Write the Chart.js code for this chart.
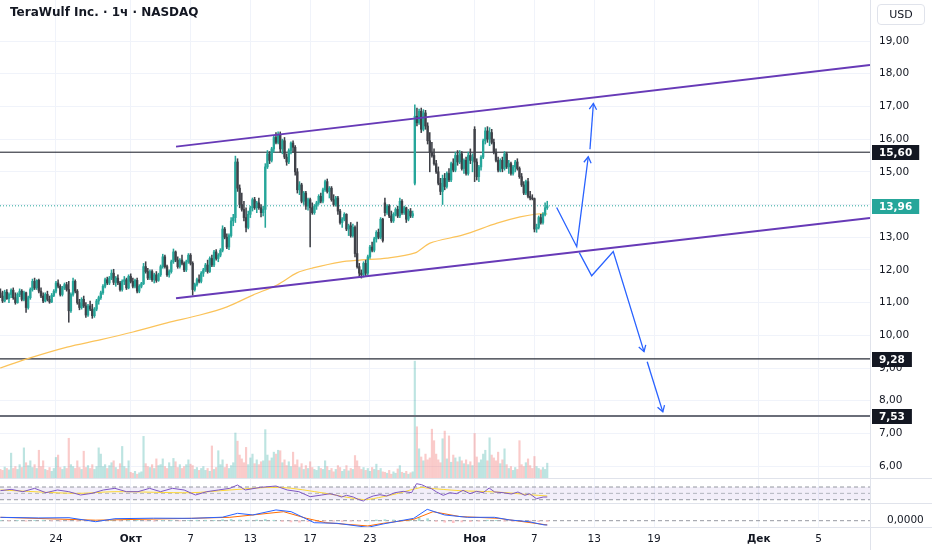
<!DOCTYPE html>
<html>
<head>
<meta charset="utf-8">
<script src="https://cdn.jsdelivr.net/npm/chart.js@4.4.1/dist/chart.umd.min.js"></script>
<style>
  html, body { margin: 0; padding: 0; background: #fff; }
  #wrap { position: relative; width: 932px; height: 550px; overflow: hidden; font-family: "DejaVu Sans", Roboto, sans-serif; }
  .pane { position: absolute; left: 0; width: 932px; }
  #title { position: absolute; left: 10px; top: 5px; font-size: 12px; font-weight: bold; color: #131722; z-index: 2; }
  #usd { position: absolute; left: 877px; top: 4px; width: 46px; height: 19px; border: 1px solid #e0e3eb; border-radius: 4px; font-size: 11px; line-height: 19px; text-align: center; color: #131722; z-index: 2; }
</style>
</head>
<body>
<div id="wrap">
  <div class="pane" style="top:0;height:479px"><canvas id="mainChart"></canvas></div>
  <div class="pane" style="top:479px;height:25px"><canvas id="rsiChart"></canvas></div>
  <div class="pane" style="top:504px;height:46px"><canvas id="macdChart"></canvas></div>
  <div id="title">TeraWulf Inc. · 1ч · NASDAQ</div>
  <div id="usd">USD</div>
</div>
<script>
// x = hourly bar number, 7 bars per session, first hour of Sep 24 = 0
const firstBar = -26;

// [open, high, low, close]
const candles = [
  // Sep 18
  [11.30,11.42,11.15,11.20],[11.20,11.35,11.00,11.05],[11.05,11.38,11.02,11.32],[11.32,11.40,11.10,11.12],[11.12,11.30,11.00,11.25],
  // Sep 19
  [11.25,11.42,11.15,11.38],[11.38,11.45,11.10,11.15],[11.15,11.30,10.95,11.00],[11.00,11.30,10.98,11.25],[11.25,11.42,11.18,11.35],[11.35,11.40,11.05,11.10],[11.10,11.35,11.05,11.30],
  // Sep 22
  [11.30,11.32,10.70,10.85],[10.85,11.20,10.80,11.15],[11.15,11.45,11.10,11.40],[11.40,11.72,11.35,11.65],[11.65,11.75,11.40,11.45],[11.45,11.70,11.40,11.68],[11.68,11.72,11.30,11.35],
  // Sep 23
  [11.35,11.45,11.15,11.20],[11.20,11.30,11.00,11.05],[11.05,11.30,11.02,11.25],[11.25,11.35,11.05,11.10],[11.10,11.20,10.98,11.02],[11.02,11.28,11.00,11.22],[11.22,11.40,11.18,11.35],
  // Sep 24
  [11.35,11.65,11.30,11.60],[11.60,11.70,11.45,11.50],[11.50,11.55,11.20,11.25],[11.25,11.50,11.20,11.45],[11.45,11.60,11.40,11.55],[11.55,11.62,11.35,11.40],[11.40,11.65,10.40,10.75],
  // Sep 25
  [10.75,11.30,10.70,11.25],[11.25,11.75,11.20,11.65],[11.65,11.70,11.30,11.35],[11.35,11.40,10.95,11.00],[11.00,11.10,10.78,10.85],[10.85,11.15,10.80,11.10],[11.10,11.20,10.85,10.90],
  // Sep 26
  [10.90,11.00,10.55,10.62],[10.62,10.95,10.58,10.90],[10.90,11.05,10.75,10.80],[10.80,10.95,10.52,10.60],[10.60,10.85,10.55,10.80],[10.80,11.10,10.75,11.05],[11.05,11.20,10.95,11.15],
  // Sep 29
  [11.15,11.35,11.10,11.30],[11.30,11.55,11.25,11.50],[11.50,11.75,11.45,11.70],[11.70,11.78,11.55,11.60],[11.60,11.80,11.55,11.75],[11.75,12.00,11.70,11.90],[11.90,12.02,11.55,11.62],
  // Sep 30
  [11.62,11.80,11.50,11.75],[11.75,11.85,11.55,11.60],[11.60,11.65,11.35,11.40],[11.40,11.70,11.35,11.65],[11.65,11.80,11.55,11.70],[11.70,11.75,11.40,11.45],[11.45,11.85,11.42,11.80],
  // Oct 1
  [11.80,11.88,11.60,11.65],[11.65,11.75,11.45,11.50],[11.50,11.72,11.45,11.68],[11.68,11.75,11.30,11.35],[11.35,11.55,11.30,11.50],[11.50,11.62,11.45,11.58],[11.58,12.20,11.55,12.10],
  // Oct 2
  [12.10,12.25,11.90,11.95],[11.95,12.05,11.70,11.75],[11.75,12.00,11.70,11.95],[11.95,12.00,11.65,11.70],[11.70,11.90,11.60,11.85],[11.85,11.95,11.62,11.68],[11.68,11.90,11.65,11.85],
  // Oct 3
  [11.85,12.15,11.80,12.10],[12.10,12.48,12.05,12.40],[12.40,12.45,12.05,12.10],[12.10,12.15,11.80,11.85],[11.85,12.00,11.78,11.95],[11.95,12.30,11.90,12.25],[12.25,12.64,12.20,12.55],
  // Oct 6
  [12.55,12.58,12.25,12.30],[12.30,12.40,12.05,12.10],[12.10,12.35,12.05,12.30],[12.30,12.45,12.15,12.20],[12.20,12.25,11.95,12.00],[12.00,12.30,11.95,12.25],[12.25,12.50,12.20,12.45],
  // Oct 7
  [12.45,12.50,12.15,12.20],[12.20,12.25,11.23,11.40],[11.40,11.60,11.35,11.55],[11.55,11.75,11.50,11.70],[11.70,11.85,11.60,11.65],[11.65,11.95,11.60,11.90],[11.90,12.05,11.80,12.00],
  // Oct 8
  [12.00,12.20,11.95,12.15],[12.15,12.30,11.90,11.95],[11.95,12.40,11.92,12.35],[12.35,12.45,12.10,12.15],[12.15,12.60,12.10,12.55],[12.55,12.62,12.30,12.35],[12.35,12.50,12.25,12.45],
  // Oct 9
  [12.45,12.65,12.40,12.60],[12.60,13.35,12.55,13.25],[13.25,13.30,12.95,13.00],[13.00,13.10,12.65,12.70],[12.70,13.10,12.62,13.05],[13.05,13.60,13.00,13.50],[13.50,13.70,13.35,13.60],
  // Oct 10
  [13.60,15.48,13.45,15.30],[15.30,15.40,14.40,14.50],[14.50,14.60,13.90,14.00],[14.00,14.35,13.80,13.85],[13.85,14.10,13.50,13.60],[13.60,13.90,13.16,13.30],[13.30,13.80,13.25,13.70],
  // Oct 13
  [13.70,13.95,13.60,13.90],[13.90,14.20,13.80,14.15],[14.15,14.22,13.85,13.90],[13.90,14.10,13.75,14.05],[14.05,14.20,13.85,13.90],[13.90,14.00,13.62,13.75],[13.75,13.95,13.65,13.85],
  // Oct 14
  [13.85,15.25,13.30,15.15],[15.15,15.65,15.10,15.55],[15.55,15.62,15.25,15.35],[15.35,15.75,15.30,15.70],[15.70,16.10,15.60,16.05],[16.05,16.20,15.85,15.90],[15.90,16.22,15.85,16.15],
  // Oct 15
  [16.15,16.22,15.60,15.70],[15.70,16.00,15.55,15.95],[15.95,16.05,15.40,15.45],[15.45,15.55,15.20,15.30],[15.30,15.70,15.25,15.65],[15.65,15.92,15.55,15.88],[15.88,15.95,15.60,15.75],
  // Oct 16
  [15.75,15.80,14.90,15.00],[15.00,15.10,14.35,14.45],[14.45,14.70,14.30,14.60],[14.60,14.65,14.05,14.10],[14.10,14.40,14.00,14.35],[14.35,14.40,13.85,13.95],[13.95,14.20,13.83,14.15],
  // Oct 17
  [14.15,14.20,12.70,13.90],[13.90,14.05,13.70,13.75],[13.75,14.00,13.70,13.95],[13.95,14.10,13.85,14.05],[14.05,14.30,14.00,14.25],[14.25,14.35,14.05,14.10],[14.10,14.50,14.05,14.45],
  // Oct 20
  [14.45,14.75,14.40,14.70],[14.70,14.78,14.35,14.40],[14.40,14.55,14.20,14.50],[14.50,14.55,14.10,14.15],[14.15,14.30,13.95,14.00],[14.00,14.25,13.95,14.20],[14.20,14.25,13.70,13.80],
  // Oct 21
  [13.80,13.85,13.40,13.45],[13.45,13.60,13.30,13.55],[13.55,13.75,13.50,13.70],[13.70,13.72,13.20,13.25],[13.25,13.40,13.05,13.35],[13.35,13.45,13.00,13.05],[13.05,13.40,13.00,13.30],
  // Oct 22
  [13.30,13.35,12.40,12.50],[12.50,13.46,12.05,12.10],[12.10,12.20,11.80,11.90],[11.90,12.00,11.75,11.85],[11.85,12.25,11.78,12.20],[12.20,12.30,11.80,11.90],[11.90,12.45,11.85,12.40],
  // Oct 23
  [12.40,12.75,12.35,12.70],[12.70,12.85,12.55,12.60],[12.60,13.00,12.55,12.95],[12.95,13.20,12.85,13.15],[13.15,13.25,12.95,13.00],[13.00,13.60,12.95,13.55],[13.55,13.58,12.85,12.90],
  // Oct 24
  [14.05,14.20,13.65,13.75],[13.75,14.00,13.70,13.95],[13.95,14.00,13.60,13.65],[13.65,13.80,13.45,13.50],[13.50,13.75,13.45,13.70],[13.70,13.90,13.65,13.85],[13.85,13.95,13.60,13.65],
  // Oct 27
  [13.65,14.20,13.60,14.10],[14.10,14.15,13.70,13.75],[13.75,13.95,13.70,13.90],[13.90,13.92,13.45,13.55],[13.55,13.85,13.50,13.80],[13.80,13.88,13.60,13.65],[13.65,13.80,13.60,13.72],
  // Oct 28
  [14.65,17.05,14.60,16.70],[16.70,16.95,16.40,16.50],[16.50,16.92,16.45,16.85],[16.85,16.95,16.20,16.30],[16.30,16.90,16.25,16.80],[16.80,16.88,16.30,16.40],[16.40,16.50,15.85,15.95],
  // Oct 29
  [15.95,16.20,15.00,15.60],[15.60,15.90,15.45,15.50],[15.50,15.70,15.20,15.25],[15.25,15.35,14.95,15.00],[15.00,15.15,14.60,14.65],[14.65,14.80,14.30,14.40],[14.40,14.90,14.00,14.80],
  // Oct 30
  [14.80,14.95,14.45,14.55],[14.55,15.00,14.50,14.95],[14.95,15.10,14.70,14.75],[14.75,15.30,14.70,15.25],[15.25,15.40,15.00,15.05],[15.05,15.60,15.00,15.50],[15.50,15.65,15.20,15.30],
  // Oct 31
  [15.30,15.65,15.25,15.55],[15.55,15.62,15.05,15.10],[15.10,15.40,14.95,15.35],[15.35,15.45,14.90,14.95],[14.95,15.60,14.90,15.50],[15.50,15.70,15.25,15.35],[15.35,15.55,15.00,15.45],
  // Nov 3
  [16.30,16.38,14.70,15.30],[15.30,15.40,14.75,14.85],[14.85,15.20,14.70,15.15],[15.15,15.50,15.05,15.45],[15.45,16.00,15.40,15.95],[15.95,16.35,15.85,16.25],[16.25,16.38,15.90,16.00],
  // Nov 4
  [16.00,16.35,15.80,16.20],[16.20,16.30,15.85,15.90],[15.90,16.00,15.55,15.60],[15.60,15.70,15.30,15.35],[15.35,15.45,15.00,15.05],[15.05,15.40,15.00,15.35],[15.35,15.45,15.00,15.10],
  // Nov 5
  [15.10,15.62,15.05,15.55],[15.55,15.60,15.10,15.15],[15.15,15.35,14.95,15.25],[15.25,15.30,14.90,14.95],[14.95,15.20,14.90,15.15],[15.15,15.35,15.00,15.30],[15.30,15.40,15.05,15.10],
  // Nov 6
  [15.10,15.15,14.80,14.85],[14.85,14.95,14.55,14.60],[14.60,14.70,14.30,14.35],[14.35,14.75,14.30,14.70],[14.70,14.80,14.20,14.25],[14.25,14.40,14.14,14.20],[14.20,14.30,14.14,14.18],
  // Nov 7
  [14.18,14.20,13.16,13.25],[13.25,13.40,13.15,13.30],[13.30,13.65,13.25,13.60],[13.60,13.70,13.40,13.45],[13.45,13.75,13.40,13.70],[13.70,14.05,13.65,13.90],[13.90,14.10,13.85,13.96]
];

// volume, millions of shares, same bars
const volumes = [
  2.0,1.8,2.5,2.2,1.9,
  5.4,2.2,2.6,2.0,3.0,2.4,6.5,
  3.4,2.8,3.8,2.4,3.0,2.2,6.0,
  2.6,3.8,2.0,1.8,2.4,1.6,2.2,
  4.5,5.0,2.4,2.0,2.6,2.2,8.5,
  3.0,2.6,2.2,3.8,2.4,2.0,5.8,
  2.4,2.8,2.2,3.0,2.0,2.6,6.5,
  5.2,2.6,3.0,2.2,2.8,3.4,3.8,
  2.4,2.0,3.2,6.8,2.6,2.2,3.8,
  1.4,1.2,1.6,1.0,1.3,1.5,8.9,
  3.2,2.6,2.4,3.0,2.2,4.2,2.8,
  3.0,4.2,2.6,2.2,3.4,2.6,4.3,
  3.6,2.4,3.0,2.2,2.6,3.0,4.0,
  3.1,2.8,2.0,2.4,1.8,2.2,2.6,
  1.8,2.2,1.6,6.9,2.0,2.4,5.9,
  3.0,4.0,2.4,3.1,2.2,2.8,3.4,
  9.6,7.9,5.0,4.2,3.4,6.6,3.0,
  4.4,5.2,3.2,4.0,3.0,3.6,3.8,
  10.3,5.0,3.8,4.4,5.6,5.2,6.0,
  5.9,3.4,4.0,2.8,3.6,2.6,5.6,
  3.0,4.0,2.4,3.2,2.0,2.8,2.2,
  3.6,2.4,2.0,1.8,2.6,2.2,2.0,
  3.8,2.6,1.8,2.2,1.5,2.0,2.8,
  2.4,1.6,2.0,2.8,1.7,2.2,2.0,
  4.9,3.8,2.6,2.0,2.4,1.8,2.2,
  1.6,2.4,2.0,3.1,1.8,2.2,1.5,
  1.4,1.2,1.8,1.0,1.5,1.2,2.1,
  2.8,1.4,1.2,1.6,1.0,1.3,1.5,
  24.6,10.9,6.3,4.6,3.8,5.2,4.0,
  4.4,10.4,8.0,5.2,4.0,3.4,8.4,
  10.0,4.2,9.0,3.5,5.0,4.4,3.6,
  4.6,3.8,3.2,4.0,3.0,3.6,2.8,
  9.5,4.6,3.4,4.0,5.2,6.0,3.8,
  8.6,5.0,4.4,3.8,5.6,3.2,4.0,
  6.3,3.0,2.2,2.6,1.8,2.4,2.0,
  8.0,3.0,2.6,3.4,4.2,2.8,2.2,
  4.7,2.6,2.2,1.9,2.4,2.0,3.3
];

// long moving average (yellow)
const maBars   = [-26.2,-13.6,5.2,20.6,36.1,52,67.4,80.1,92.2,103.5,112.8,120.3,133,142.3,155,168.1,175.1,190.6,206.5,217.3,225.2,230];
const maValues = [9.0,9.28,9.64,9.86,10.10,10.38,10.62,10.87,11.23,11.54,11.91,12.06,12.24,12.30,12.36,12.52,12.82,13.07,13.43,13.62,13.71,13.71];

// RSI and its average
const rsiBars   = [-26,-21,-15.5,-10,-4.7,0.7,6,11.5,16.8,22.2,27.6,33,38.4,43.8,49,54.5,60,65.3,70.6,76,81.4,85,88.6,95.8,103,108.3,113.7,119,124.5,128.3,131.4,133.7,136,139.2,141.5,143.9,145.4,148.5,151.7,154.8,158.7,162.6,166.5,168.8,171.2,173.5,175.8,178.2,181.3,184.4,187.5,190.6,193.8,196.9,200,202.8,205.4,209.3,213.2,216.3,219.5,221.8,224.9,228.1,230];
const rsiValues = [58.5,62.6,55.3,65.8,52.1,60.6,55.3,44.8,50.0,60.6,65.8,55.3,55.3,65.8,55.3,65.8,60.6,44.8,55.3,60.6,65.8,76.3,60.6,68.9,73.1,60.6,55.3,39.5,44.8,48.9,43.8,38.5,43.8,38.5,31.2,25.9,33.2,41.7,45.8,41.7,52.1,56.3,52.1,80.4,77.3,70.0,64.7,54.3,43.8,52.1,48.9,59.5,48.9,56.3,52.1,66.8,54.3,52.1,47.9,54.3,43.8,48.9,33.2,38.5,38.5];
const rsiMaBars   = [-26,9.7,27.6,63.5,81.4,104.7,126.3,143.9,153.2,159.5,171.1,173.5,189.1,206.2,221.8,230];
const rsiMaValues = [60.6,50.0,55.3,52.1,60.6,68.9,50.0,30.5,39.5,48.9,68.9,66.8,58.5,54.3,45.8,41.7];
const rsiLevels = [70, 50, 30];

// MACD
const macdBars     = [-26,-8.3,6.1,18.6,27.6,45.6,63.5,77.9,85,92.2,103,110.1,120.9,131.6,146,153.2,167.5,173.8,181.9,192.7,205.3,212.4,221.4,228.6,230];
const macdValues   = [0.135,0.11,0.12,-0.04,0.08,0.10,0.095,0.14,0.295,0.23,0.43,0.36,-0.08,-0.105,-0.265,-0.13,0.095,0.455,0.23,0.135,0.135,0.03,-0.04,-0.17,-0.17];
const signalBars   = [-26,18.6,63.5,81.4,92.2,106.6,117.3,126.3,146,153.2,167.5,176.5,189.1,207,230];
const signalValues = [0.135,0.02,0.095,0.135,0.23,0.36,0.095,-0.08,-0.21,-0.105,0.055,0.36,0.165,0.095,-0.17];
const histStep = 4;
const histValues = [0.01,-0.01,0.01,-0.02,0.01,0.02,-0.01,-0.02,-0.01,-0.02,-0.01,0.01,0.02,0.01,-0.01,0.01,0.01,-0.01,-0.02,0.01,0.01,-0.01,0.01,0.02,0.02,0.01,0.04,0.05,0.03,0.02,0.03,0.05,0.02,-0.03,-0.05,-0.06,-0.04,-0.03,-0.02,-0.02,-0.03,-0.02,-0.01,0.01,0.03,0.04,0.03,0.02,0.03,0.12,0.08,-0.03,-0.06,-0.08,-0.05,-0.04,-0.02,0.02,0.01,-0.02,-0.03,-0.04,-0.03,-0.04,-0.03];

// drawings
const levels = [15.60, 9.28, 7.53];
const lastPrice = 13.96;
const channelTop = [[56.2, 15.77], [381.1, 18.27]];
const channelBottom = [[56.2, 11.13], [381.1, 13.59]];
const arrows = [
  [[234.4, 13.91], [243.8, 12.71], [249.2, 15.46]],
  [[250.0, 15.69], [251.6, 17.09]],
  [[245.0, 12.53], [250.8, 11.82], [260.9, 12.56], [275.3, 9.50]],
  [[276.8, 9.19], [284.1, 7.66]]
];

// axes
const priceTicks = [6,7,8,9,10,11,12,13,14,15,16,17,18,19];
const tickBars   = [0, 35, 63, 91, 119, 147, 196, 224, 252, 280, 329, 357];
const tickLabels = ["24", "Окт", "7", "13", "17", "23", "Ноя", "7", "13", "19", "Дек", "5"];
const monthLabels = ["Окт", "Ноя", "Дек"];

// ---------------------------------------------------------------
const xMin = -26.2, xMax = 381.1;
const upColor = "#26a69a";
const downColor = "#3f4148";
const gridColor = "#f0f3fa";
const sepColor = "#e0e3eb";
const axisWidth = 62;
const fontFamily = '"DejaVu Sans", Roboto, sans-serif';

Chart.defaults.font.family = fontFamily;
Chart.defaults.font.size = 10.5;
Chart.defaults.color = "#131722";

const fmt = (v) => v.toFixed(2).replace(".", ",");
const pts = (xs, ys) => xs.map((x, i) => ({ x: x, y: ys[i] }));
const pairs = (arr) => arr.map((p) => ({ x: p[0], y: p[1] }));
const flat = (v) => [{ x: xMin, y: v }, { x: xMax, y: v }];
const barX = candles.map((c, i) => firstBar + i);
const isUp = candles.map((c) => c[3] >= c[0]);

function xAxis(showLabels) {
  return {
    type: "linear",
    min: xMin,
    max: xMax,
    offset: false,
    grid: { color: gridColor, drawTicks: false, offset: false },
    border: { display: false },
    afterBuildTicks: (ax) => { ax.ticks = tickBars.map((v) => ({ value: v })); },
    ticks: {
      display: showLabels,
      autoSkip: false,
      maxRotation: 0,
      padding: 5,
      color: "#131722",
      font: (c) => ({ size: 10.5, weight: monthLabels.includes(tickLabels[c.index]) ? "bold" : "normal" }),
      callback: (v, i) => tickLabels[i],
    },
    afterFit: (s) => { s.height = showLabels ? 22 : 0; s.paddingLeft = 0; s.paddingRight = 0; },
  };
}

function fixWidth(s) {
  s.width = axisWidth;
  s.paddingTop = 0;
  s.paddingBottom = 0;
}

// pane separators and the right border
const paneLines = {
  id: "paneLines",
  afterDraw(chart, args, opts) {
    const { ctx, chartArea, width, height } = chart;
    ctx.save();
    ctx.strokeStyle = sepColor;
    ctx.lineWidth = 1;
    ctx.beginPath();
    const x = Math.round(chartArea.right) + 0.5;
    ctx.moveTo(x, 0);
    ctx.lineTo(x, height);
    if (opts.bottom) {
      const y = Math.round(chartArea.bottom) - 0.5;
      ctx.moveTo(0, y);
      ctx.lineTo(width, y);
    }
    ctx.stroke();
    ctx.restore();
  },
};

// price tags on the axis and arrow heads
const priceTags = {
  id: "priceTags",
  afterDraw(chart) {
    const { ctx, chartArea } = chart;
    const yScale = chart.scales.y;
    ctx.save();
    // arrow heads
    ctx.beginPath();
    ctx.rect(chartArea.left, chartArea.top, chartArea.right - chartArea.left, chartArea.bottom - chartArea.top);
    ctx.clip();
    chart.data.datasets.forEach((ds, i) => {
      if (!ds.arrow) return;
      const el = chart.getDatasetMeta(i).data;
      const a = el[el.length - 2], b = el[el.length - 1];
      const ang = Math.atan2(b.y - a.y, b.x - a.x);
      ctx.strokeStyle = ds.borderColor;
      ctx.lineWidth = 1.3;
      ctx.beginPath();
      ctx.moveTo(b.x - 7 * Math.cos(ang - 0.55), b.y - 7 * Math.sin(ang - 0.55));
      ctx.lineTo(b.x, b.y);
      ctx.lineTo(b.x - 7 * Math.cos(ang + 0.55), b.y - 7 * Math.sin(ang + 0.55));
      ctx.stroke();
    });
    ctx.restore();

    ctx.save();
    ctx.font = "bold 10.5px " + fontFamily;
    ctx.textBaseline = "middle";
    const tags = levels.map((v) => [v, "#131722"]).concat([[lastPrice, upColor]]);
    const x0 = chartArea.right + 2;
    tags.forEach(([v, bg]) => {
      const py = Math.round(yScale.getPixelForValue(v));
      const t = fmt(v);
      const w = ctx.measureText(t).width + 14;
      ctx.fillStyle = bg;
      ctx.fillRect(x0, py - 7, w, 15);
      ctx.fillStyle = "#ffffff";
      ctx.fillText(t, x0 + 7, py + 1);
    });
    ctx.restore();
  },
};

const common = {
  responsive: true,
  maintainAspectRatio: false,
  animation: false,
  events: [],
  layout: { padding: 0 },
};

// ---- main pane: candles, volume, MA, drawings
const mainDatasets = [
  // arrows
  ...arrows.map((a) => ({
    type: "line", data: pairs(a), borderColor: "#2962ff", borderWidth: 1.3,
    pointRadius: 0, arrow: true, yAxisID: "y", order: 0,
  })),
  { type: "line", data: pairs(channelTop), borderColor: "#673ab7", borderWidth: 2, pointRadius: 0, yAxisID: "y", order: 0 },
  { type: "line", data: pairs(channelBottom), borderColor: "#673ab7", borderWidth: 2, pointRadius: 0, yAxisID: "y", order: 0 },
  // candles
  {
    type: "bar", data: candles.map((c, i) => ({ x: barX[i], y: [Math.min(c[0], c[3]), Math.max(c[0], c[3])] })),
    backgroundColor: isUp.map((u) => (u ? upColor : downColor)), barThickness: 1.7, grouped: false, yAxisID: "y", order: 1,
  },
  {
    type: "bar", data: candles.map((c, i) => ({ x: barX[i], y: [c[2], c[1]] })),
    backgroundColor: isUp.map((u) => (u ? upColor : downColor)), barThickness: 0.9, grouped: false, yAxisID: "y", order: 1,
  },
  { type: "line", data: pts(maBars, maValues), borderColor: "#fbc35a", borderWidth: 1.2, pointRadius: 0, tension: 0.3, yAxisID: "y", order: 2 },
  // horizontal levels
  { type: "line", data: flat(levels[0]), borderColor: "#131722", borderWidth: 1, pointRadius: 0, yAxisID: "y", order: 3 },
  { type: "line", data: flat(levels[1]), borderColor: "#2a2e39", borderWidth: 1.4, pointRadius: 0, yAxisID: "y", order: 3 },
  { type: "line", data: flat(levels[2]), borderColor: "#6a6d78", borderWidth: 2, pointRadius: 0, yAxisID: "y", order: 3 },
  { type: "line", data: flat(lastPrice), borderColor: upColor, borderWidth: 1, borderDash: [1, 2], pointRadius: 0, yAxisID: "y", order: 3 },
  // volume
  {
    type: "bar", data: volumes.map((v, i) => ({ x: barX[i], y: v })),
    backgroundColor: isUp.map((u) => (u ? "rgba(38,166,154,0.3)" : "rgba(239,83,80,0.3)")),
    barThickness: 1.5, grouped: false, yAxisID: "yv", order: 10,
  },
];

new Chart("mainChart", {
  type: "bar",
  data: { datasets: mainDatasets },
  options: {
    ...common,
    plugins: { legend: { display: false }, tooltip: { enabled: false }, paneLines: { bottom: true } },
    scales: {
      x: xAxis(false),
      y: {
        type: "linear", position: "right", min: 5.606, max: 20.254,
        grid: { color: gridColor, drawTicks: false },
        border: { display: false },
        afterBuildTicks: (ax) => { ax.ticks = priceTicks.map((v) => ({ value: v })); },
        ticks: { padding: 9, color: "#131722", callback: (v) => (v === 14 ? "" : fmt(v)) },
        afterFit: fixWidth,
      },
      yv: { display: false, min: 0, max: 100 },
    },
  },
  plugins: [paneLines, priceTags],
});

// ---- RSI pane
new Chart("rsiChart", {
  type: "line",
  data: {
    datasets: [
      { data: pts(rsiBars, rsiValues), borderColor: "#7e57c2", borderWidth: 1, pointRadius: 0 },
      { data: pts(rsiMaBars, rsiMaValues), borderColor: "#fdd835", borderWidth: 1, pointRadius: 0, tension: 0.3 },
      { data: flat(rsiLevels[0]), borderColor: "#9598a1", borderWidth: 1, borderDash: [4, 3], pointRadius: 0 },
      { data: flat(rsiLevels[1]), borderColor: "#b2b5be", borderWidth: 1, borderDash: [4, 3], pointRadius: 0 },
      {
        data: flat(rsiLevels[2]), borderColor: "#9598a1", borderWidth: 1, borderDash: [4, 3], pointRadius: 0,
        fill: { value: rsiLevels[0] }, backgroundColor: "rgba(126,87,194,0.1)",
      },
    ],
  },
  options: {
    ...common,
    plugins: { legend: { display: false }, tooltip: { enabled: false }, paneLines: { bottom: true } },
    scales: {
      x: xAxis(false),
      y: {
        type: "linear", position: "right", min: 16.5, max: 95.2,
        grid: { display: false }, border: { display: false },
        ticks: { display: false },
        afterFit: fixWidth,
      },
    },
  },
  plugins: [paneLines],
});

// ---- MACD pane with the time axis
new Chart("macdChart", {
  type: "bar",
  data: {
    datasets: [
      { type: "line", data: pts(macdBars, macdValues), borderColor: "#2962ff", borderWidth: 1, pointRadius: 0, order: 0 },
      { type: "line", data: pts(signalBars, signalValues), borderColor: "#ff6d00", borderWidth: 1, pointRadius: 0, order: 0 },
      { type: "line", data: flat(0), borderColor: "#9598a1", borderWidth: 1, borderDash: [4, 3], pointRadius: 0, order: 2 },
      {
        type: "bar", data: histValues.map((v, i) => ({ x: firstBar + i * histStep, y: v })),
        backgroundColor: histValues.map((v) => (v >= 0 ? "#a6dcd5" : "#ffc2c6")),
        barThickness: 2, grouped: false, order: 1,
      },
    ],
  },
  options: {
    ...common,
    plugins: { legend: { display: false }, tooltip: { enabled: false }, paneLines: { bottom: true } },
    scales: {
      x: xAxis(true),
      y: {
        type: "linear", position: "right", min: -0.292, max: 0.668,
        grid: { display: false }, border: { display: false },
        afterBuildTicks: (ax) => { ax.ticks = [{ value: 0 }]; },
        ticks: { padding: 9, color: "#131722", callback: (v) => v.toFixed(4).replace(".", ",") },
        afterFit: fixWidth,
      },
    },
  },
  plugins: [paneLines],
});
</script>
</body>
</html>
